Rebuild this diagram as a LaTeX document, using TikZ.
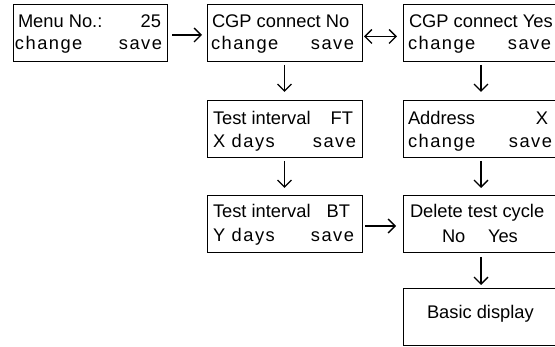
\documentclass[tikz,border=0pt]{standalone}
\usepackage{fontspec}
\setmainfont{Liberation Sans}
\newfontfamily\lcdwide[LetterSpace=8]{Liberation Sans}
\usetikzlibrary{arrows.meta}
\begin{document}
\begin{tikzpicture}[x=1pt,y=-1pt,
  box/.style={draw, line width=1pt, rectangle, anchor=north west, minimum height=57pt, inner sep=0pt, outer sep=0pt},
  colA/.style={minimum width=154pt},
  colB/.style={minimum width=155pt},
  colC/.style={minimum width=156pt},
  txt/.style={inner sep=0pt, outer sep=0pt, font=\fontsize{18.3}{20}\selectfont},
  txtw/.style={inner sep=0pt, outer sep=0pt, font=\lcdwide\fontsize{18.3}{20}\selectfont},
  arr/.style={line width=1.4pt, -{Straight Barb[length=7pt,width=14pt]}},
  darr/.style={line width=1.4pt, {Straight Barb[length=7pt,width=14pt]}-{Straight Barb[length=7pt,width=14pt]}},
]
\clip (0,0) rectangle (555,347);
% boxes
\node[box,colA] (b1) at (13,5) {};
\node[box,colB] (b2) at (207,5) {};
\node[box,colC] (b3) at (403,5) {};
\node[box,colB] (b4) at (207,101) {};
\node[box,colC] (b5) at (403,101) {};
\node[box,colB] (b6) at (207,196) {};
\node[box,colC] (b7) at (403,196) {};
\node[box,colC] (b8) at (403,289) {};
% texts box 1
\node[txt,anchor=base west] (t1a) at (18,28) {Menu No.:};
\node[txt,anchor=base east] (t1b) at (161,28) {25};
\node[txtw,anchor=base west] (t1c) at (15,50) {change};
\node[txtw,anchor=base east] (t1d) at (162,50) {save};
% box 2
\node[txt,anchor=base west] (t2a) at (212,28) {CGP connect No};
\node[txtw,anchor=base west] (t2c) at (211,50) {change};
\node[txtw,anchor=base east] (t2d) at (354,50) {save};
% box 3
\node[txt,anchor=base west] (t3a) at (409,28) {CGP connect Yes};
\node[txtw,anchor=base west] (t3c) at (408,50) {change};
\node[txtw,anchor=base east] (t3d) at (551,50) {save};
% box 4
\node[txt,anchor=base west] (t4a) at (213,125) {Test interval};
\node[txt,anchor=base east] (t4b) at (353,125) {FT};
\node[txtw,anchor=base west] (t4c) at (213,148) {X days};
\node[txtw,anchor=base east] (t4d) at (356,148) {save};
% box 5
\node[txt,anchor=base west] (t5a) at (408,125) {Address};
\node[txt,anchor=base east] (t5b) at (548,125) {X};
\node[txtw,anchor=base west] (t5c) at (408,148) {change};
\node[txtw,anchor=base east] (t5d) at (552,148) {save};
% box 6
\node[txt,anchor=base west] (t6a) at (213,218) {Test interval};
\node[txt,anchor=base east] (t6b) at (350,218) {BT};
\node[txtw,anchor=base west] (t6c) at (213,242) {Y days};
\node[txtw,anchor=base east] (t6d) at (354,242) {save};
% box 7
\node[txt,anchor=base west] (t7a) at (410,218) {Delete test cycle};
\node[txt,anchor=base west] (t7b) at (442,243) {No};
\node[txt,anchor=base west] (t7c) at (488,243) {Yes};
% box 8
\node[txt,anchor=base west] (t8a) at (427,319) {Basic display};
% connectors
\draw[arr, shorten <=5pt, shorten >=5pt] ([yshift=-1.5pt]b1.east) -- ([yshift=-1.5pt]b2.west);
\draw[darr, shorten <=2pt, shorten >=6pt] ([yshift=-3pt]b2.east) -- ([yshift=-3pt]b3.west);
\draw[arr, shorten <=3pt, shorten >=9pt] (b2.south) -- (b4.north);
\draw[arr, shorten <=3pt, shorten >=9pt] (b3.south) -- (b5.north);
\draw[arr, shorten <=3pt, shorten >=8pt] (b4.south) -- (b6.north);
\draw[arr, shorten <=3pt, shorten >=8pt] (b5.south) -- (b7.north);
\draw[arr, shorten <=3pt, shorten >=7pt] ([yshift=-1.5pt]b6.east) -- ([yshift=-1.5pt]b7.west);
\draw[arr, shorten <=4pt, shorten >=4pt] (b7.south) -- (b8.north);
\end{tikzpicture}
\end{document}
